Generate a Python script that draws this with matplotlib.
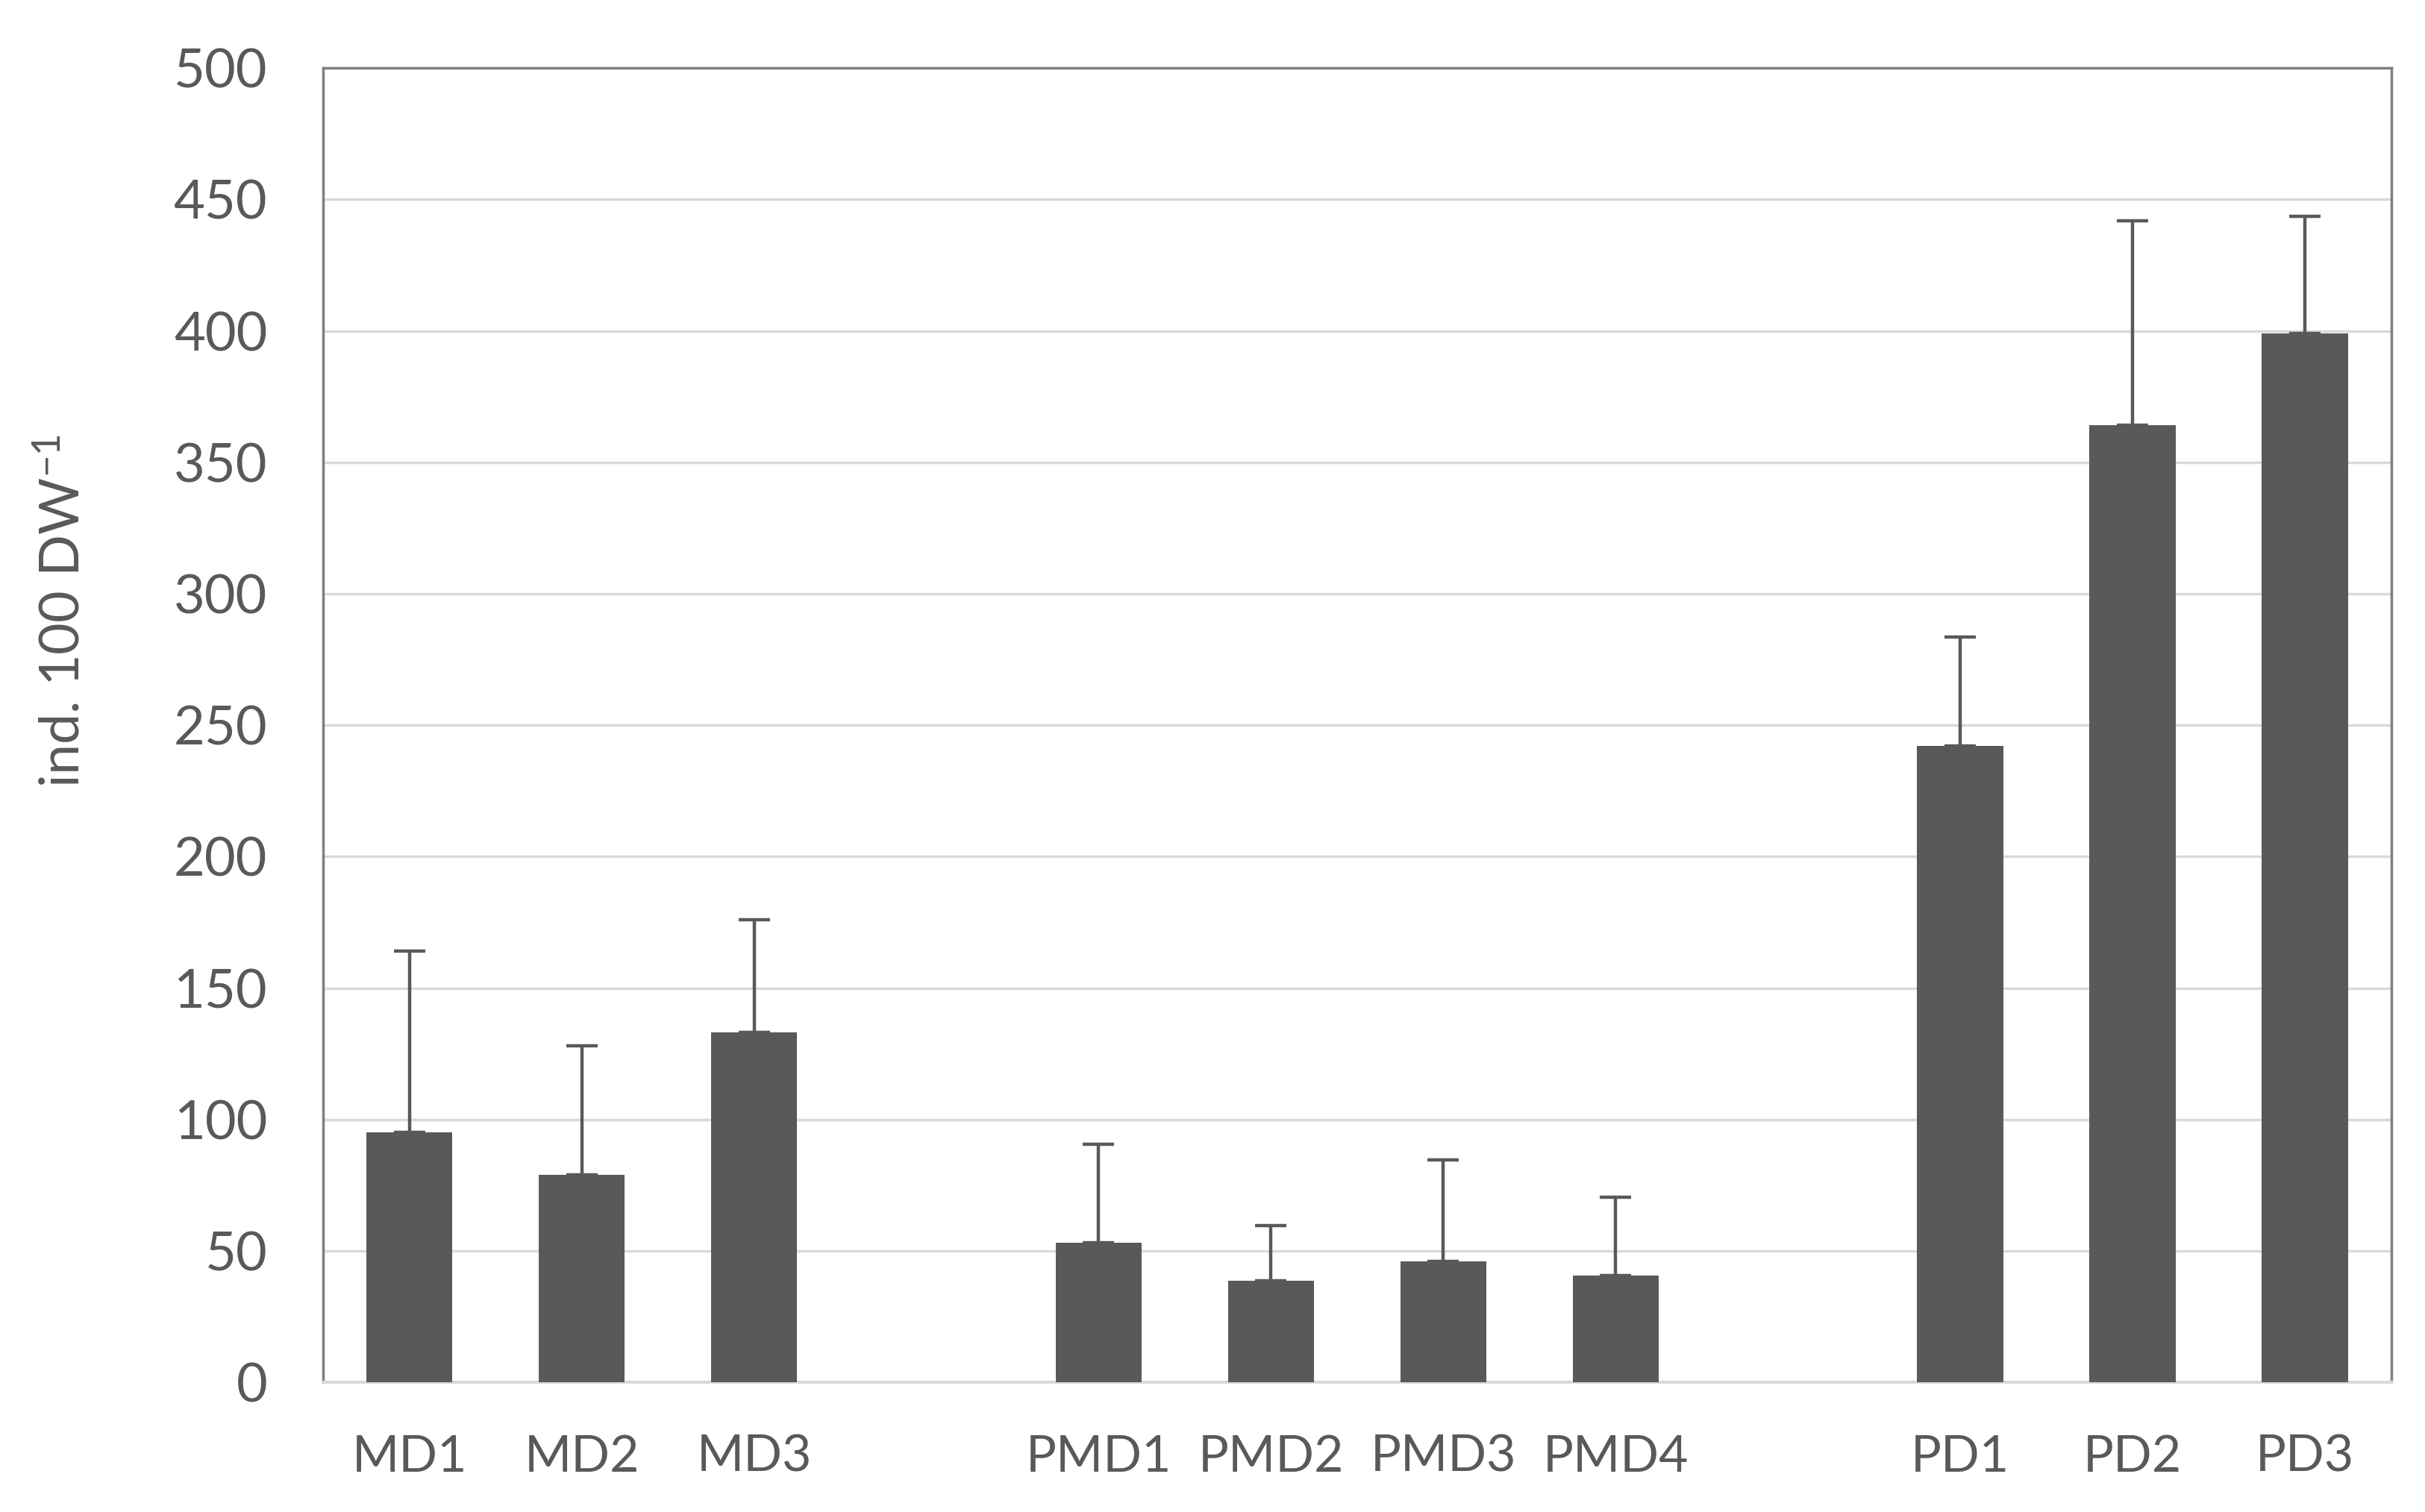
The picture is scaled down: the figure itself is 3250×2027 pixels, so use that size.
import numpy as np
import matplotlib
matplotlib.use('Agg')
import matplotlib.pyplot as plt

plt.rcParams['font.family'] = ['Lato', 'DejaVu Sans']
plt.rcParams['axes.unicode_minus'] = False

labels = ['MD1', 'MD2', 'MD3', '', 'PMD1', 'PMD2', 'PMD3', 'PMD4', '', 'PD1', 'PD2', 'PD3']
means = [95, 79, 133, np.nan, 53, 38.5, 46, 40.5, np.nan, 242, 364, 399]
errors = [69, 49, 43, np.nan, 37.5, 21, 38.5, 30, np.nan, 41.5, 78, 44.5]

bar_col = '#595959'
txt_col = '#595959'

fig = plt.figure(figsize=(32.5, 20.27), dpi=100)
ax = fig.add_axes([0.1333, 0.0858, 0.8527, 0.8692])

x = np.arange(len(labels))
ax.bar(x, means, width=0.5, color=bar_col, zorder=3)
ax.errorbar(x, means, yerr=[np.zeros(len(x)), errors], fmt='none',
            ecolor=bar_col, elinewidth=3.2, capsize=15, capthick=3.2, zorder=4)

ax.set_xlim(-0.5, len(labels) - 0.5)
ax.set_ylim(0, 500)
ax.set_yticks(np.arange(0, 501, 50))
ax.set_xticks(x)
ax.set_xticklabels(labels)
ax.grid(axis='y', color='#D9D9D9', linewidth=2.5, zorder=0)
ax.set_axisbelow(True)

ax.tick_params(axis='y', length=0, labelsize=52, colors=txt_col, pad=54)
ax.tick_params(axis='x', length=0, labelsize=49, colors=txt_col, pad=50)

for side in ['left', 'top', 'right']:
    ax.spines[side].set_color('#7F7F7F')
    ax.spines[side].set_linewidth(2.5)
ax.spines['bottom'].set_color('#D9D9D9')
ax.spines['bottom'].set_linewidth(3)

ax.set_ylabel('ind. 100 DW$\\mathregular{^{-1}}$', fontsize=53, color=txt_col)
ax.yaxis.set_label_coords(-0.113, 0.587)

fig.savefig('out.png', dpi=100)
